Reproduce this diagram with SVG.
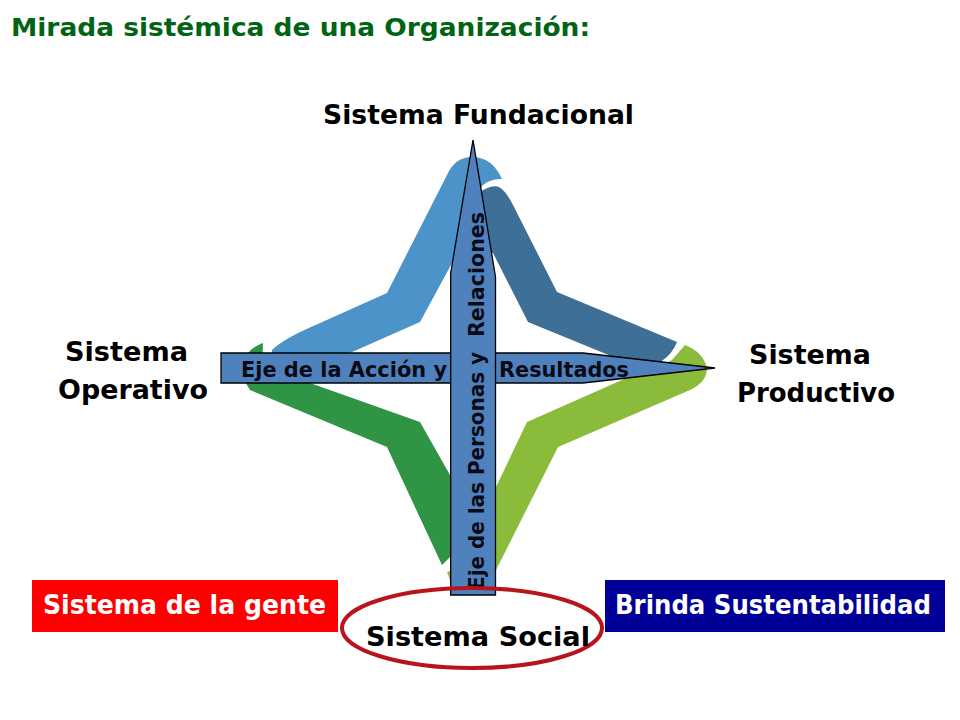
<svg xmlns="http://www.w3.org/2000/svg" width="960" height="720" viewBox="0 0 960 720">
<style>
.lbl{font-family:"DejaVu Sans",sans-serif;font-weight:700;font-size:27px;fill:#000}
.box{font-family:"DejaVu Sans",sans-serif;font-weight:700;font-size:26px;fill:#fff}
.axis{font-family:"DejaVu Sans",sans-serif;font-weight:700;font-size:22px;fill:#0a0a14}
.ar{fill:#4f81bd;stroke:#000;stroke-width:1.3}
</style>
<rect width="960" height="720" fill="#fff"/>
<text id="title" x="11" y="36" font-family="'DejaVu Sans',sans-serif" font-weight="700" font-size="24px" fill="#006414" textLength="579" lengthAdjust="spacingAndGlyphs">Mirada sistémica de una Organización:</text>
<g id="star">
<path id="petal-blue" fill="#4b93c8" d="M272,350 Q280,342 300,332 L387,293 L447,175 Q455,157 472,157 Q492,157 502,179 Q488,178 478,190 L470,230 L420,322 L300,375 L272,358 Z"/>
<path id="petal-darkblue" fill="#3e6f96" d="M475,195 Q491,184 499,187 Q506,191 513,205 L557,292 L677,342 Q672,354 663,360 L650,372 L528,322 L493,253 L475,253 Z"/>
<path id="petal-green" fill="#2f9444" d="M263,343 Q247,348 242,366 Q243,380 250,390 L387,447 L442,565 L452,555 L465,500 L450,475 L420,422 L310,383 L262,366 Z"/>
<path id="petal-tip" fill="#a9b04a" d="M447,572 L453,570 L456,588 L453,588 Z"/>
<path id="petal-lightgreen" fill="#8bbb3a" d="M685,345 Q703,352 707,368 Q707,382 690,390 L558,447 L496,570 L480,590 L465,585 L470,530 L496,487 L527,422 L640,372 Q662,366 672,360 Z"/>
</g>
<g id="connectors">
<path id="axis-h" class="ar" d="M221,353 H583 L715,368 L583,383 H221 Z"/>
<path id="axis-v" class="ar" d="M473,140 L495.500,277 V595 H450.700 V273 Z"/>
</g>
<g id="labels-axis">
<text class="axis" y="377"><tspan x="241" textLength="206" lengthAdjust="spacingAndGlyphs">Eje de la Acción y</tspan> <tspan x="499" textLength="130" lengthAdjust="spacingAndGlyphs">Resultados</tspan></text>
<text class="axis" transform="translate(484,590) rotate(-90)"><tspan x="0" textLength="238" lengthAdjust="spacingAndGlyphs">Eje de las Personas y</tspan> <tspan x="253" textLength="125" lengthAdjust="spacingAndGlyphs">Relaciones</tspan></text>
</g>
<g id="node-fundacional"><text class="lbl" x="323" y="124" textLength="311" lengthAdjust="spacingAndGlyphs">Sistema Fundacional</text></g>
<g id="node-operativo"><text class="lbl"><tspan x="65" y="361" textLength="123" lengthAdjust="spacingAndGlyphs">Sistema</tspan> <tspan x="58" y="399" textLength="150" lengthAdjust="spacingAndGlyphs">Operativo</tspan></text></g>
<g id="node-productivo"><text class="lbl"><tspan x="749" y="364" textLength="122" lengthAdjust="spacingAndGlyphs">Sistema</tspan> <tspan x="737" y="402" textLength="158" lengthAdjust="spacingAndGlyphs">Productivo</tspan></text></g>
<g id="node-gente"><rect x="32" y="580" width="306" height="52" fill="#ff0000"/><text class="box" x="43" y="614" textLength="283" lengthAdjust="spacingAndGlyphs">Sistema de la gente</text></g>
<g id="node-sustentabilidad"><rect x="605" y="580" width="340" height="52" fill="#000099"/><text class="box" x="615" y="614" textLength="316" lengthAdjust="spacingAndGlyphs">Brinda Sustentabilidad</text></g>
<g id="node-social"><ellipse cx="472" cy="628" rx="130" ry="40" fill="none" stroke="#b8141e" stroke-width="4"/><text class="lbl" x="366" y="646" textLength="224" lengthAdjust="spacingAndGlyphs">Sistema Social</text></g>
</svg>
